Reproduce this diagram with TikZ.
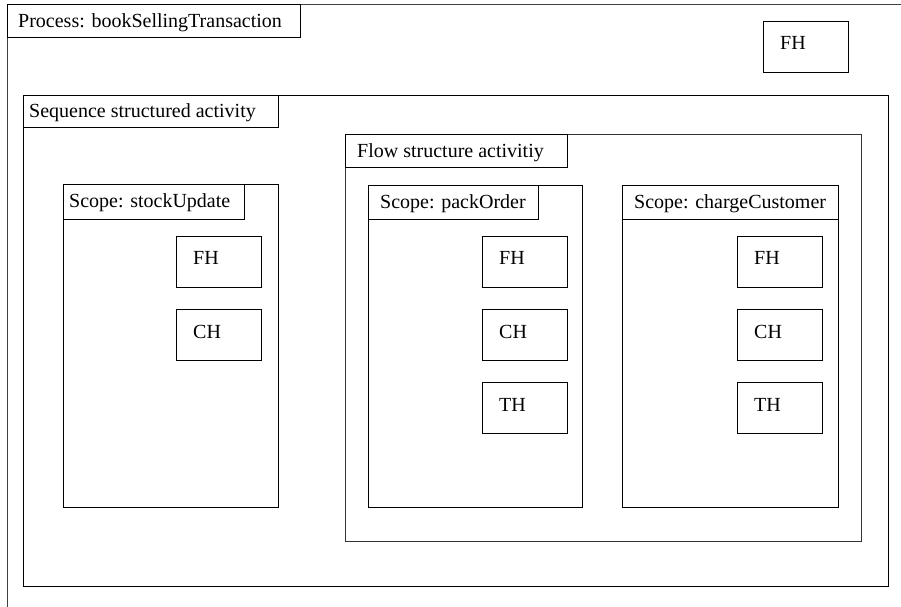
\documentclass[tikz,border=0pt]{standalone}
\usepackage{fontspec}
\setmainfont{Liberation Serif}
\begin{document}
\begin{tikzpicture}[x=1pt,y=-1pt,
  box/.style={draw=black, line width=0.9pt, inner sep=0pt, anchor=north west, fill=none},
  lbl/.style={anchor=base west, inner sep=0pt, font=\fontsize{20}{22}\selectfont},
  hbox/.style={box, minimum width=85pt, minimum height=51pt}]
\useasboundingbox (0,0) rectangle (901,606);
\clip (0,0) rectangle (901,606);
% process
\node[box, draw=black!75, line width=1.2pt, minimum width=910pt, minimum height=615pt] (proc) at (7,4) {};
\node[box, minimum width=293pt, minimum height=33pt] (procl) at (7,4) {};
\node[lbl] at (18,27) {Process: bookSellingTransaction};
\node[hbox] (pfh) at (763,21) {};
\node[lbl] at (780,49) {FH};
% sequence
\node[box, minimum width=865pt, minimum height=491pt] (seq) at (23,95) {};
\node[box, minimum width=255pt, minimum height=32pt] (seql) at (23,95) {};
\node[lbl] at (29,117) {Sequence structured activity};
% flow
\node[box, draw=black!80, minimum width=516pt, minimum height=407pt] (flow) at (345,134) {};
\node[box, minimum width=222pt, minimum height=33pt] (flowl) at (345,134) {};
\node[lbl] at (357,157) {Flow structure activitiy};
% scope stockUpdate
\node[box, line width=1.3pt, minimum width=215pt, minimum height=323pt] (s1) at (63,184) {};
\node[box, minimum width=181pt, minimum height=35pt] (s1l) at (63,184) {};
\node[lbl] at (69,207) {Scope: stockUpdate};
\node[hbox] (s1fh) at (176,236) {};
\node[lbl] at (193,264) {FH};
\node[hbox] (s1ch) at (176,309) {};
\node[lbl] at (193,338) {CH};
% scope packOrder
\node[box, minimum width=214pt, minimum height=322pt] (s2) at (368,185) {};
\node[box, minimum width=170pt, minimum height=34pt] (s2l) at (368,185) {};
\node[lbl] at (380,208) {Scope: packOrder};
\node[hbox] (s2fh) at (482,236) {};
\node[lbl] at (499,264) {FH};
\node[hbox] (s2ch) at (482,309) {};
\node[lbl] at (499,338) {CH};
\node[hbox] (s2th) at (482,382) {};
\node[lbl] at (499,411) {TH};
% scope chargeCustomer
\node[box, minimum width=216pt, minimum height=322pt] (s3) at (622,185) {};
\node[box, minimum width=216pt, minimum height=34pt] (s3l) at (622,185) {};
\node[lbl] at (634,208) {Scope: chargeCustomer};
\node[hbox] (s3fh) at (737,236) {};
\node[lbl] at (754,264) {FH};
\node[hbox] (s3ch) at (737,309) {};
\node[lbl] at (754,338) {CH};
\node[hbox] (s3th) at (737,382) {};
\node[lbl] at (754,411) {TH};
\end{tikzpicture}
\end{document}
